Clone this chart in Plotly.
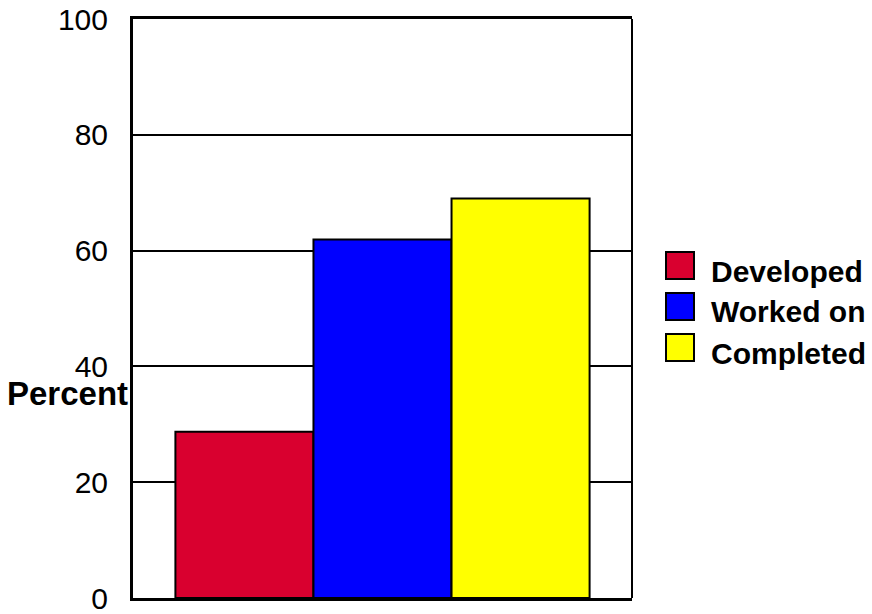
import plotly.graph_objects as go

# ---- data ----
series_names = ["Developed", "Worked on", "Completed"]
series_values = [28.7, 61.9, 69.0]
series_colors = ["#D9002F", "#0000FF", "#FFFF00"]
y_ticks = [0, 20, 40, 60, 80, 100]
y_title = "Percent"

FONT = "Liberation Sans, Arial, Helvetica, sans-serif"

# plot-area pixel geometry
L, R, T, B = 133, 632, 19, 598
W, H = 872, 614

def px(p):
    return (p - L) / (R - L)

def py(p):
    return (B - p) / (B - T)

fig = go.Figure()
for name, val, col in zip(series_names, series_values, series_colors):
    fig.add_trace(go.Bar(
        x=["all"], y=[val], name=name,
        marker=dict(color=col, line=dict(color="black", width=2)),
        showlegend=False,
    ))

shapes = []
annotations = []

# right border (thinner)
shapes.append(dict(type="line", xref="paper", yref="paper", x0=1, x1=1, y0=0, y1=1,
                   line=dict(color="black", width=2)))

# manual legend
sq_tops = [252, 293, 334]
for i, (name, col) in enumerate(zip(series_names, series_colors)):
    t = sq_tops[i]
    shapes.append(dict(type="rect", xref="paper", yref="paper",
                       x0=px(666), x1=px(694), y0=py(t + 27), y1=py(t),
                       fillcolor=col, line=dict(color="black", width=2)))
    annotations.append(dict(xref="paper", yref="paper", x=px(709), y=py(t + 19),
                            xanchor="left", yanchor="middle", showarrow=False,
                            text="<b>%s</b>" % name,
                            font=dict(family=FONT, size=30, color="black")))

annotations.append(dict(xref="paper", yref="paper", x=px(130), y=py(393),
                        xanchor="right", yanchor="middle", showarrow=False,
                        text="<b>%s</b>" % y_title,
                        font=dict(family=FONT, size=33, color="black")))

fig.update_layout(
    width=W, height=H,
    margin=dict(l=L, r=W - R, t=T, b=H - B, pad=0, autoexpand=False),
    paper_bgcolor="white", plot_bgcolor="white",
    barmode="group", bargap=0.17, bargroupgap=0,
    showlegend=False,
    shapes=shapes, annotations=annotations,
    xaxis=dict(showticklabels=False, showgrid=False, zeroline=False, automargin=False,
               showline=True, linecolor="black", linewidth=3, mirror=True,
               range=[-0.5, 0.5], fixedrange=True),
    yaxis=dict(range=[0, 100], tickvals=y_ticks, ticktext=[str(v) for v in y_ticks],
               showgrid=True, gridcolor="black", gridwidth=1.5, zeroline=False,
               showline=True, linecolor="black", linewidth=3, automargin=False,
               ticks="", ticklabelstandoff=16, ticklabeloverflow="allow",
               tickfont=dict(family=FONT, size=30, color="black")),
)

fig.write_html("out.html")
